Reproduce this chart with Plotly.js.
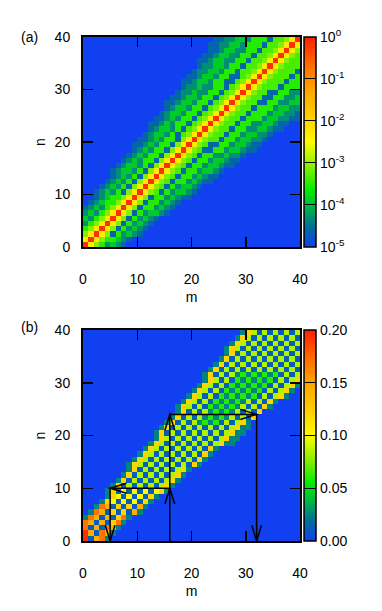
<!DOCTYPE html>
<html>
<head>
<meta charset="utf-8">
<script src="https://cdn.plot.ly/plotly-3.0.1.min.js"></script>
<style>
  html, body { margin: 0; padding: 0; background: #fff; }
  #myDiv { width: 382px; height: 611px; }
</style>
</head>
<body>
<div id="myDiv"></div>
<script>
// panel (a): one string per row n = 0..39, one char per m = 0..39
// char -> log10 value, see levelsA
var rowsA = [
  "a8642321",
  "8a8644321",
  "68a86142321",
  "468a86142321",
  "2468a86142321",
  "32468a86142321",
  "232468a861423321",
  "1232468a861442321",
  "01234468a861442321",
  "001234468a8614423211",
  "0012324168a8651423321",
  "00012324168a8651423321",
  "000012324168a86514423211",
  "0000012324168a86514423211",
  "00000123324168a86514423321",
  "000000123324168a865144233211",
  "0000000123244168a865144233211",
  "00000000123244168a865144223221",
  "000000000123244168a8651144233211",
  "0000000001123244168a8651144233211",
  "00000000001123244168a8655144233221",
  "000000000001233241568a8655144233221",
  "0000000000001233241568a86551442233211",
  "00000000000011232441568a86551442233211",
  "000000000000011232441568a865514442332211",
  "0000000000000012332441568a86551444233221",
  "00000000000000012332441568a8655144423322",
  "000000000000000112332441568a865511442233",
  "0000000000000000112332441568a86551144223",
  "00000000000000000122322441568a8655114422",
  "000000000000000000122322441568a865551444",
  "0000000000000000001123324411568a86555144",
  "00000000000000000001123324411568a8655514",
  "000000000000000000001223324415568a865551",
  "0000000000000000000001223324415568a86555",
  "00000000000000000000011233224415568a8655",
  "000000000000000000000011233224415568a865",
  "0000000000000000000000011233224415568a86",
  "00000000000000000000000112233244415568a8",
  "000000000000000000000000112233244415568a"
];
var levelsA = {"0": -5.5, "1": -4.6, "2": -4.3, "3": -3.9, "4": -3.5, "5": -3.35,
  "6": -3.1, "7": -2.6, "8": -2.3, "9": -0.8, "a": -0.15};

// panel (b): same layout, char -> value in levelsB
var rowsB = [
  "b19a2",
  "b91a92",
  "a191a92",
  "a91918a2",
  "2a91918a2",
  "02a91818192",
  "002a91818192",
  "0002871717182",
  "00002871717182",
  "0000281717171782",
  "00000281616161682",
  "000000281616161682",
  "0000000281616161682",
  "00000000281616161682",
  "0000000028616161616182",
  "00000000028616161616182",
  "000000000028616161616182",
  "0000000000028616161616182",
  "0000000000002861616161616822",
  "00000000000002861616161616822",
  "000000000000028161616161616822",
  "0000000000000028161616161616822",
  "0000000000000002816163434161682",
  "00000000000000002816163434361618",
  "000000000000000002816163434361618",
  "00000000000000000286161434343616182",
  "000000000000000000286161434343616182",
  "00000000000000000002861614343434161682",
  "000000000000000000002861614343434161682",
  "0000000000000000000002861614343434161682",
  "0000000000000000000000286161434343416168",
  "0000000000000000000000281616343434341616",
  "0000000000000000000000028161616161616161",
  "0000000000000000000000002816161616161616",
  "0000000000000000000000000281616161616161",
  "0000000000000000000000000028161616161616",
  "0000000000000000000000000028616161616161",
  "0000000000000000000000000002861616161616",
  "0000000000000000000000000000286161616161",
  "0000000000000000000000000000028616161616"
];
var levelsB = {"0": 0, "1": 0.012, "2": 0.025, "3": 0.025, "4": 0.06, "5": 0.07,
  "6": 0.085, "7": 0.1, "8": 0.12, "9": 0.145, "a": 0.17, "b": 0.195};

var ticksA = [-5, -4, -3, -2, -1, 0];
var tickTextA = ["10<sup>-5</sup>", "10<sup>-4</sup>", "10<sup>-3</sup>",
  "10<sup>-2</sup>", "10<sup>-1</sup>", "10<sup>0</sup>"];
var ticksB = [0, 0.05, 0.10, 0.15, 0.20];
var tickTextB = ["0.00", "0.05", "0.10", "0.15", "0.20"];
var axisTicks = [0, 10, 20, 30, 40];

function decode(s, levels) {
  s = s.slice(0, 40).padEnd(40, "0");
  var out = [];
  for (var i = 0; i < 40; i++) out.push(levels[s[i]]);
  return out;
}

var jet = [
  [0, 'rgb(16,64,240)'],
  [0.1, 'rgb(0,112,150)'],
  [0.2, 'rgb(0,190,60)'],
  [0.27, 'rgb(0,235,0)'],
  [0.38, 'rgb(130,240,0)'],
  [0.5, 'rgb(255,250,0)'],
  [0.62, 'rgb(255,205,0)'],
  [0.75, 'rgb(255,165,0)'],
  [0.88, 'rgb(255,100,0)'],
  [1, 'rgb(255,30,0)']
];

var font = {family: 'Liberation Sans, Arial, sans-serif', size: 14, color: '#000'};
var pad = '\u00a0\u00a0\u00a0';

function cbar(yc, lenPx, vals, text) {
  return {
    x: 304 / 382, xanchor: 'left', xpad: 0,
    y: yc, yanchor: 'middle', ypad: 0,
    len: lenPx / 611, lenmode: 'fraction',
    thickness: 12, thicknessmode: 'pixels',
    outlinewidth: 1.5, outlinecolor: '#000',
    tickmode: 'array', tickvals: vals, ticktext: text, tickprefix: pad,
    ticks: 'inside', ticklen: 12, tickcolor: '#000', tickwidth: 1,
    tickfont: font
  };
}

var trace1 = {
  type: 'heatmap',
  z: rowsA.map(function (r) { return decode(r, levelsA); }),
  x0: 0.5, dx: 1, y0: 0.5, dy: 1,
  zmin: -5, zmax: 0,
  colorscale: jet,
  xaxis: 'x', yaxis: 'y',
  colorbar: cbar(0.7676, 210, ticksA, tickTextA)
};

var trace2 = {
  type: 'heatmap',
  z: rowsB.map(function (r) { return decode(r, levelsB); }),
  x0: 0.5, dx: 1, y0: 0.5, dy: 1,
  zmin: 0, zmax: 0.2,
  colorscale: jet,
  xaxis: 'x2', yaxis: 'y2',
  colorbar: cbar(0.2872, 211, ticksB, tickTextB)
};

function xax(anchor, dom) {
  return {
    domain: dom, anchor: anchor, range: [0, 40],
    tickmode: 'array', tickvals: axisTicks,
    ticks: 'inside', ticklen: 10, tickwidth: 1.5, tickcolor: '#000',
    showline: true, linewidth: 2, linecolor: '#000', mirror: 'allticks',
    showgrid: false, zeroline: false, tickfont: font,
    ticklabelstandoff: 18,
    title: {text: 'm', font: font, standoff: 6}
  };
}
function yax(anchor, dom) {
  return {
    domain: dom, anchor: anchor, range: [0, 40],
    tickmode: 'array', tickvals: axisTicks,
    ticks: 'inside', ticklen: 10, tickwidth: 1.5, tickcolor: '#000',
    showline: true, linewidth: 2, linecolor: '#000', mirror: 'allticks',
    showgrid: false, zeroline: false, tickfont: font,
    ticklabelstandoff: 8,
    title: {text: 'n', font: font, standoff: 6}
  };
}

// arrows in panel (b)
var arrowLine = {color: '#000', width: 1.5};
var arrowPaths = [
  "M16,0 L16,24", "M16,10 L5,10", "M5,10 L5,0", "M16,24 L32,24", "M32,24 L32,0",
  "M15.1,7 L16,10 L16.9,7", "M15.1,21 L16,24 L16.9,21",
  "M8,9.05 L5,10 L8,10.95", "M4.1,3 L5,0 L5.9,3",
  "M29,23.05 L32,24 L29,24.95", "M31.1,3 L32,0 L32.9,3"
];
var shapes = arrowPaths.map(function (p) {
  return {type: 'path', path: p, xref: 'x2', yref: 'y2', line: arrowLine};
});

var layout = {
  width: 382, height: 611,
  margin: {l: 0, r: 0, t: 0, b: 0},
  paper_bgcolor: '#fff', plot_bgcolor: '#fff',
  font: font,
  showlegend: false,
  xaxis: xax('y', [83 / 382, 300 / 382]),
  yaxis: yax('x', [364 / 611, 574 / 611]),
  xaxis2: xax('y2', [83 / 382, 300 / 382]),
  yaxis2: yax('x2', [70 / 611, 281 / 611]),
  shapes: shapes,
  annotations: [
    {text: '(a)', xref: 'paper', yref: 'paper', x: 29 / 382, y: 1 - 37 / 611,
      showarrow: false, xanchor: 'center', yanchor: 'middle', font: font},
    {text: '(b)', xref: 'paper', yref: 'paper', x: 29 / 382, y: 1 - 327 / 611,
      showarrow: false, xanchor: 'center', yanchor: 'middle', font: font}
  ]
};

Plotly.newPlot('myDiv', [trace1, trace2], layout, {staticPlot: true});
</script>
</body>
</html>
